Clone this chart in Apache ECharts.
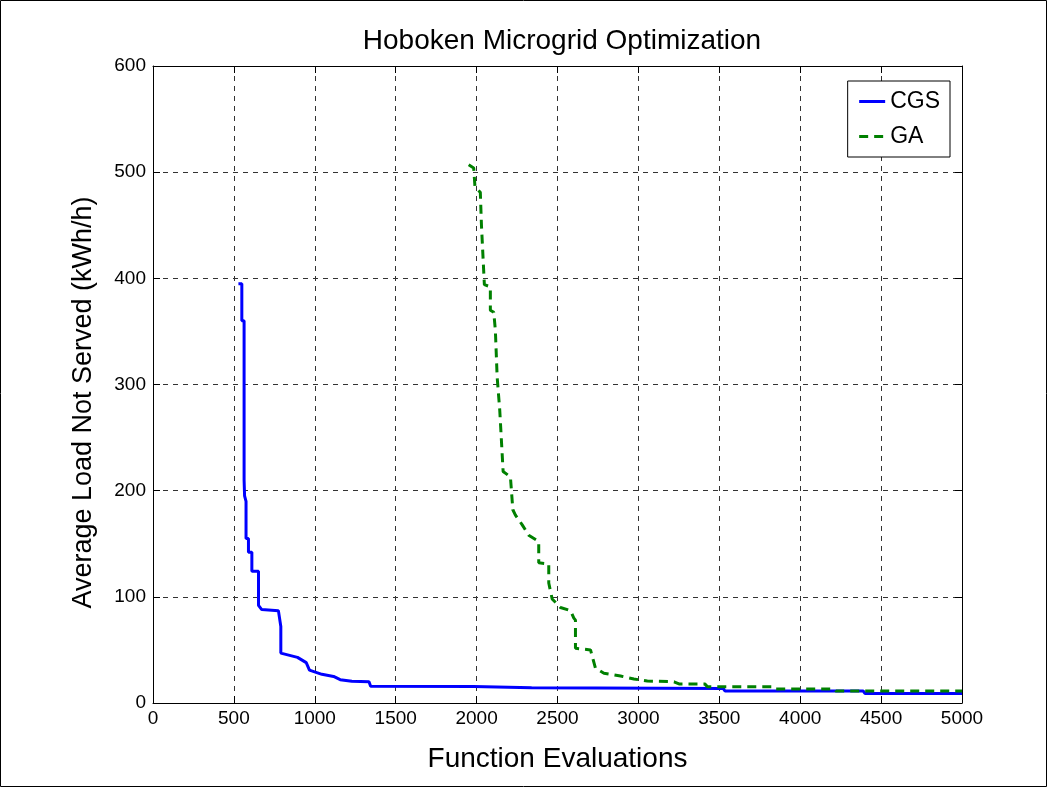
<!DOCTYPE html>
<html>
<head>
<meta charset="utf-8">
<title>Hoboken Microgrid Optimization</title>
<script src="https://cdn.jsdelivr.net/npm/echarts@6/dist/echarts.min.js"></script>
<style>
  html, body { margin: 0; padding: 0; background: #fff; }
  #chart { width: 1048px; height: 787px; }
</style>
</head>
<body>
<div id="chart"></div>
<script>
// CGS best-so-far curve (function evaluations, kWh/h)
var cgsEvals = [528, 549, 549, 563, 563, 566, 575, 575, 590, 590, 611, 611, 652, 652, 672, 775, 790, 790, 893, 947, 967, 1044, 1116, 1157, 1229, 1335, 1345, 1980, 1990, 2340, 2350, 3525, 3535, 4390, 4400, 5000];
var cgsLoad  = [395, 395, 360, 360, 210, 195, 190, 155, 155, 142, 142, 124, 124, 92, 88, 87, 72, 47, 43, 38, 31, 27, 25, 22, 20.5, 20, 15.8, 15.5, 14.6, 14.4, 13.6, 13.6, 11.3, 11.2, 9, 9];

// GA best-so-far curve
var gaEvals = [1951, 1982, 1990, 2023, 2030, 2048, 2085, 2085, 2106, 2116, 2127, 2143, 2164, 2209, 2224, 2240, 2281, 2322, 2384, 2384, 2446, 2446, 2467, 2518, 2580, 2601, 2611, 2611, 2704, 2735, 2787, 2890, 2972, 3055, 3220, 3251, 3410, 3426, 3838, 3850, 4210, 4220, 5000];
var gaLoad  = [507, 504, 486, 481, 450, 394, 392, 370, 368, 351, 307, 276, 218, 213, 182, 177, 168, 158, 152, 132, 131, 113, 98, 90, 87, 80, 78, 51.5, 50, 32.7, 28, 25.4, 22.6, 20.7, 20, 18, 18, 15.4, 15.4, 13.2, 13.2, 11.3, 11.3];

var xTicks = [0, 5000, 500];  // min, max, step
var yTicks = [0, 600, 100];

function pairs(xs, ys) {
  var out = [];
  for (var i = 0; i < xs.length; i++) out.push([xs[i], ys[i]]);
  return out;
}

var font = '"Liberation Sans", Arial, sans-serif';
var chart = echarts.init(document.getElementById('chart'));

var gridLine = { show: true, lineStyle: { color: '#333', type: [5, 5], width: 1 } };
var boxLine = { show: true, onZero: false, lineStyle: { color: '#000', width: 1 } };
var tickIn = { show: true, inside: true, length: 7, lineStyle: { color: '#000' } };
var plain = function (v) { return String(v); };

var option = {
  animation: false,
  backgroundColor: '#fff',
  textStyle: { fontFamily: font, color: '#000' },
  title: {
    text: 'Hoboken Microgrid Optimization',
    left: 557, textAlign: 'center', top: 22,
    textStyle: { fontFamily: font, fontSize: 28, fontWeight: 'normal', color: '#000' }
  },
  legend: {
    right: 98, top: 81,
    orient: 'vertical',
    backgroundColor: '#fff',
    borderColor: '#000', borderWidth: 1,
    padding: [9, 10, 9, 10],
    itemGap: 12,
    itemWidth: 26, itemHeight: 12,
    itemStyle: { opacity: 0 },
    lineStyle: { width: 3 },
    textStyle: { fontFamily: font, fontSize: 23, color: '#000' },
    data: ['CGS', 'GA']
  },
  grid: { left: 153, right: 86, top: 66, bottom: 84 },
  xAxis: [{
    type: 'value', min: xTicks[0], max: xTicks[1], interval: xTicks[2],
    name: 'Function Evaluations', nameLocation: 'middle', nameGap: 42,
    nameTextStyle: { fontFamily: font, fontSize: 28, color: '#000' },
    axisLine: boxLine, axisTick: tickIn, splitLine: gridLine,
    axisLabel: { fontFamily: font, fontSize: 19, color: '#000', margin: 6, formatter: plain }
  }, {
    type: 'value', position: 'top', min: xTicks[0], max: xTicks[1], interval: xTicks[2],
    axisLine: boxLine, axisTick: tickIn, splitLine: { show: false }, axisLabel: { show: false }
  }],
  yAxis: [{
    type: 'value', min: yTicks[0], max: yTicks[1], interval: yTicks[2],
    name: 'Average Load Not Served (kWh/h)', nameLocation: 'middle', nameGap: 56,
    nameTextStyle: { fontFamily: font, fontSize: 27, color: '#000', padding: [0, 36, 0, 0] },
    axisLine: boxLine, axisTick: tickIn, splitLine: gridLine,
    axisLabel: { fontFamily: font, fontSize: 19, color: '#000', margin: 7, formatter: plain }
  }, {
    type: 'value', position: 'right', min: yTicks[0], max: yTicks[1], interval: yTicks[2],
    axisLine: boxLine, axisTick: tickIn, splitLine: { show: false }, axisLabel: { show: false }
  }],
  graphic: [{
    type: 'rect', silent: true, z: -1,
    shape: { x: 0.5, y: 0.5, width: 1046, height: 786 },
    style: { fill: null, stroke: '#000', lineWidth: 1 }
  }],
  series: [{
    name: 'CGS', type: 'line', showSymbol: false, symbol: 'none',
    data: pairs(cgsEvals, cgsLoad),
    lineStyle: { color: '#0000ff', width: 3 },
    itemStyle: { color: '#0000ff' }
  }, {
    name: 'GA', type: 'line', showSymbol: false, symbol: 'none',
    data: pairs(gaEvals, gaLoad),
    lineStyle: { color: '#008000', width: 3, type: [9, 6] },
    itemStyle: { color: '#008000' }
  }]
};
chart.setOption(option);
</script>
</body>
</html>
